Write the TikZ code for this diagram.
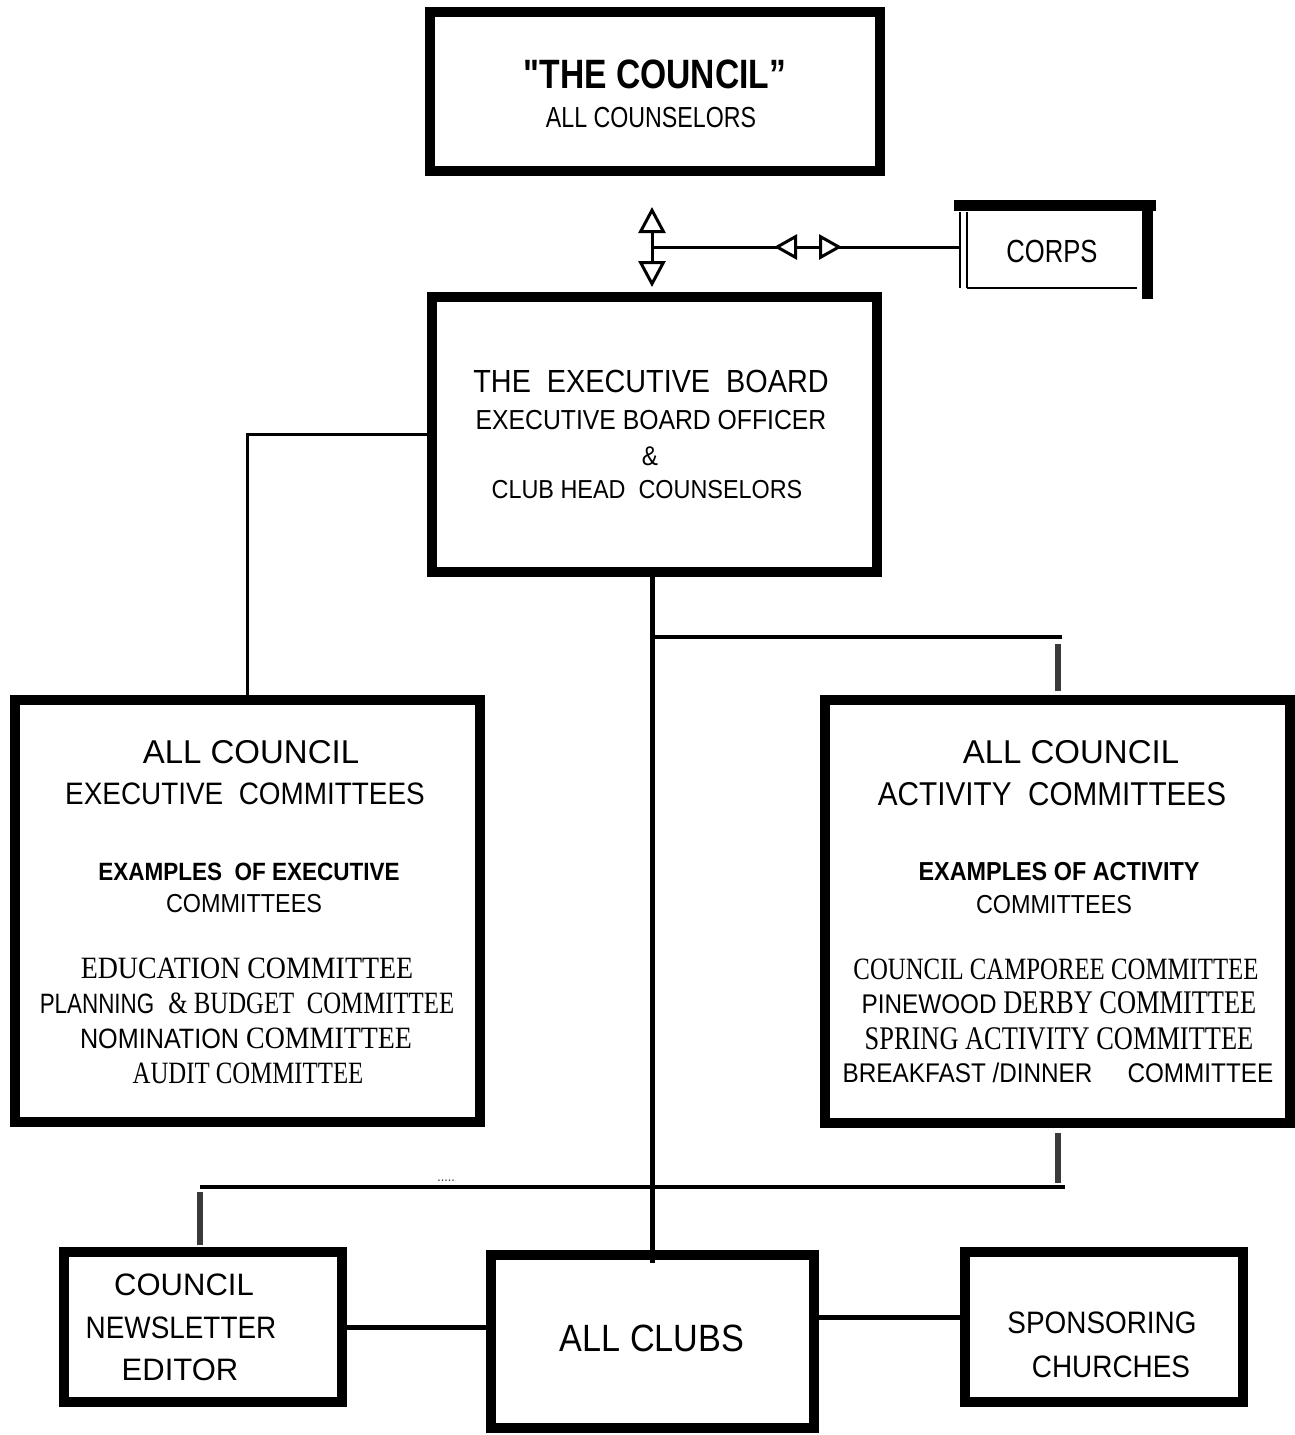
\documentclass[tikz,border=0pt]{standalone}
\usepackage{fontspec}
\setmainfont{Liberation Sans}[FakeStretch=0.9]
\newfontfamily\sanswide{Liberation Sans}
\newfontfamily\sansnarrow{Liberation Sans}[FakeStretch=0.8]
\newfontfamily\titlefont{Liberation Sans}[FakeStretch=0.82]
\newfontfamily\serifwide{Liberation Serif}[FakeStretch=0.9]
\newfontfamily\serifnarrow{Liberation Serif}[FakeStretch=0.8]
\usetikzlibrary{arrows.meta,positioning}
\definecolor{ink}{HTML}{000000}
\definecolor{stubgray}{HTML}{3A3A3A}
\newcommand{\fsz}[1]{\fontsize{#1}{#1}\selectfont}

\begin{document}
\begin{tikzpicture}[x=1pt,y=-1pt,
  box/.style={draw=ink,line width=10pt,inner sep=0pt},
  txt/.style={anchor=base,inner sep=0pt,text=ink},
  link/.style={draw=ink,line width=3.5pt},
  trunk/.style={draw=ink,line width=4.5pt},
  stub/.style={draw=stubgray,line width=6pt},
  headtri/.style 2 args={arrows={Triangle[fill=white,length=#1,width=#2]-Triangle[fill=white,length=#1,width=#2]},line width=3pt,draw=ink}]
\path[fill=white] (0,0) rectangle (1294,1435);
\useasboundingbox (0,0) rectangle (1294,1435);

\node[box,minimum width=450pt,minimum height=159pt] (council) at (655,91.5) {};
\node[box,minimum width=445pt,minimum height=275pt] (exec) at (654.5,434.5) {};
\node[box,minimum width=465pt,minimum height=422pt] (execcom) at (247.5,911) {};
\node[box,minimum width=465pt,minimum height=423pt] (actcom) at (1057.5,911.5) {};
\node[box,minimum width=278pt,minimum height=150pt] (news) at (203,1327) {};
\node[box,minimum width=323pt,minimum height=173pt] (clubs) at (652.5,1341.5) {};
\node[box,minimum width=278pt,minimum height=150pt] (spons) at (1104,1327) {};
\node[inner sep=0pt,minimum width=187pt,minimum height=82pt] (corps) at (1053.5,247) {};

\draw[ink,line width=11pt,line cap=rect] (corps.north west) -- ([xshift=3pt]corps.north east);
\draw[ink,line width=11pt,line cap=rect] (corps.north east) -- ([yshift=-5pt]corps.south east);
\draw[ink,line width=2.5pt] ([yshift=-6pt]corps.north west) -- (corps.south west);
\draw[ink,line width=2.5pt] ([xshift=7pt,yshift=-6pt]corps.north west) -- ([xshift=7pt]corps.south west);
\draw[ink,line width=2.5pt] ([xshift=7pt]corps.south west) -- ([xshift=-10pt]corps.south east);

\coordinate (uptip) at (652,207);
\coordinate (downtip) at (652,287);
\coordinate (hub) at (652,247);
\coordinate (corpsL) at (774,247);
\coordinate (corpsR) at (842,247);
\draw[link,line width=3pt] (hub) -- (corps.west);
\draw[headtri={26pt}{27pt}] (uptip) -- (downtip);
\draw[headtri={23pt}{25pt}] (corpsL) -- (corpsR);

\coordinate (actbranch) at (1062,637);
\coordinate (clubsin) at ([yshift=-13pt]clubs.north);
\coordinate (crossL) at (200,1187);
\coordinate (crossR) at (1065,1187);
\coordinate (sponsin) at ([yshift=10pt]spons.west);
\draw[link] (exec.west) -| (execcom.north);
\draw[trunk] (clubs.north |- exec.south) -- (clubsin);
\draw[link] (clubs.north |- actbranch) -- (actbranch);
\draw[link,line width=4pt] (crossL) -- (crossR);
\draw[stub] ([yshift=4pt]actcom.north) -- ++(0,-47);
\draw[stub] ([yshift=-5pt]actcom.south) -- ++(0,50);
\draw[stub] ([xshift=-3pt,yshift=2pt]news.north) -- ++(0,-53);
\draw[link,line width=5pt] (news.east) -- (news.east -| clubs.west);
\draw[link,line width=5pt] (sponsin) -- (sponsin -| clubs.east);

\node[txt,font=\titlefont\fsz{41}\bfseries] (councilA) at (655,88) {"THE COUNCIL”};
\node[txt,font=\sansnarrow\fsz{29}] (councilB) at (651,127) {ALL COUNSELORS};

\node[txt,font=\fsz{32}] (execA) at (651,392) {THE~ EXECUTIVE~ BOARD};
\node[txt,font=\fsz{27.5}] (execB) at (651,429) {EXECUTIVE BOARD OFFICER};
\node[txt,font=\fsz{27}] (execC) at (650,465) {\&};
\node[txt,font=\fsz{26}] (execD) at (647,498) {CLUB HEAD~ COUNSELORS};

\node[txt,font=\sanswide\fsz{33}] (execcomA) at (251,763) {ALL COUNCIL};
\node[txt,font=\fsz{31}] (execcomB) at (245,804) {EXECUTIVE~ COMMITTEES};
\node[txt,font=\fsz{25}\bfseries] (execcomC) at (249,880) {EXAMPLES~ OF EXECUTIVE};
\node[txt,font=\fsz{26}] (execcomD) at (244,912) {COMMITTEES};
\node[txt,font=\serifwide\fsz{31}] (execcomE) at (247,978) {EDUCATION COMMITTEE};
\node[txt,font=\fsz{28}] (execcomF) at (247,1013) {{\sansnarrow PLANNING}~ {\serifnarrow\fsz{31}\& BUDGET~ COMMITTEE}};
\node[txt,font=\fsz{28}] (execcomG) at (246,1048) {NOMINATION {\serifwide\fsz{31}COMMITTEE}};
\node[txt,font=\serifnarrow\fsz{31}] (execcomH) at (248,1083) {AUDIT COMMITTEE};

\node[txt,font=\sanswide\fsz{33}] (actcomA) at (1071,763) {ALL COUNCIL};
\node[txt,font=\fsz{33}] (actcomB) at (1052,805) {ACTIVITY~ COMMITTEES};
\node[txt,font=\fsz{26}\bfseries] (actcomC) at (1059,880) {EXAMPLES OF ACTIVITY};
\node[txt,font=\fsz{26}] (actcomD) at (1054,913) {COMMITTEES};
\node[txt,font=\serifnarrow\fsz{31}] (actcomE) at (1056,979) {COUNCIL CAMPOREE COMMITTEE};
\node[txt,font=\fsz{27}] (actcomF) at (1059,1013) {PINEWOOD {\serifnarrow\fsz{33}DERBY COMMITTEE}};
\node[txt,font=\serifnarrow\fsz{33}] (actcomG) at (1059,1049) {SPRING ACTIVITY COMMITTEE};
\node[txt,font=\fsz{27}] (actcomH) at (1058,1082) {BREAKFAST /DINNER\hspace{35pt}COMMITTEE};

\node[txt,font=\sanswide\fsz{31}] (newsA) at (184,1295) {COUNCIL};
\node[txt,font=\fsz{31}] (newsB) at (181,1338) {NEWSLETTER};
\node[txt,font=\sanswide\fsz{31}] (newsC) at (180,1380) {EDITOR};
\node[txt,font=\fsz{38}] (clubsA) at (652,1351) {ALL CLUBS};
\node[txt,font=\fsz{31}] (sponsA) at (1102,1333) {SPONSORING};
\node[txt,font=\fsz{31}] (sponsB) at (1111,1377) {CHURCHES};
\node[txt,font=\sansnarrow\fsz{32}] (corpsA) at (1052,262) {CORPS};
\node[txt,font=\fsz{14},text=stubgray] (dots) at (446,1181) {.....};
\end{tikzpicture}
\end{document}
